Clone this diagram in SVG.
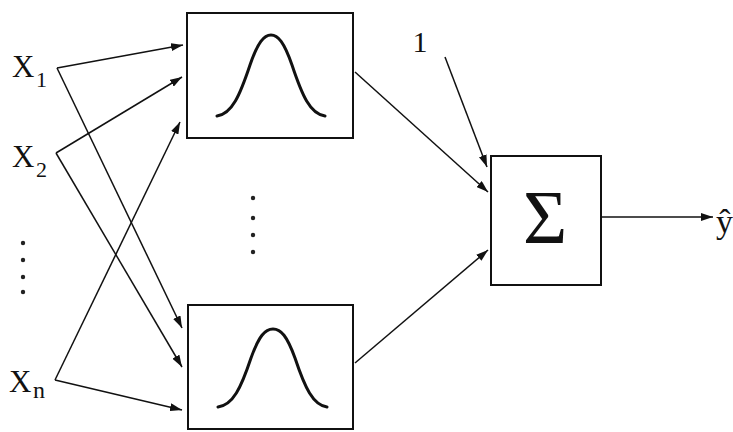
<svg xmlns="http://www.w3.org/2000/svg" width="733" height="432" viewBox="0 0 733 432">
<style>
.lbl{font-family:"Liberation Serif","DejaVu Serif",serif;fill:#111}
.box{fill:none;stroke:#111;stroke-width:2}
.curve{fill:none;stroke:#111;stroke-width:3;stroke-linecap:round}
.con{stroke:#111;stroke-width:1.5;fill:none}
.dot{fill:#222}
</style>
<defs>
<marker id="ah" viewBox="0 0 12 8" refX="12" refY="4" markerWidth="12" markerHeight="8" markerUnits="userSpaceOnUse" orient="auto">
<path d="M0,0 L12,4 L0,8 z" fill="#111"/>
</marker>
</defs>
<rect width="733" height="432" fill="#ffffff"/>

<g id="x1"><text class="lbl" x="12" y="77" font-size="31">X<tspan x="36" y="87" font-size="22">1</tspan></text></g>
<g id="x2"><text class="lbl" x="12" y="167" font-size="31">X<tspan x="36" y="177" font-size="22">2</tspan></text></g>
<g id="xn"><text class="lbl" x="9" y="392" font-size="31">X<tspan x="33" y="398" font-size="24">n</tspan></text></g>
<g id="dots-left">
<circle class="dot" cx="23" cy="243" r="2.2"/>
<circle class="dot" cx="23" cy="260" r="2.2"/>
<circle class="dot" cx="23" cy="277" r="2.2"/>
<circle class="dot" cx="23" cy="292" r="2.2"/>
</g>

<g id="rbf1">
<rect class="box" x="187" y="13" width="166" height="125"/>
<path class="curve" d="M217,116 C232,114 240,95 250,65 C258,42 264,35 271,35 C278,35 284,42 292,65 C302,95 310,114 325,116"/>
</g>
<g id="dots-mid">
<circle class="dot" cx="253" cy="198" r="2.2"/>
<circle class="dot" cx="253" cy="218" r="2.2"/>
<circle class="dot" cx="253" cy="235" r="2.2"/>
<circle class="dot" cx="253" cy="252" r="2.2"/>
</g>
<g id="rbfn">
<rect class="box" x="188" y="305" width="165" height="124"/>
<path class="curve" d="M218,407 C233,405 241,388 251,358 C259,336 265,329 273,329 C281,329 287,336 295,358 C305,388 313,405 327,407"/>
</g>
<g id="sum">
<rect class="box" x="491" y="156" width="110" height="129"/>
<text class="lbl" x="545" y="243" font-size="76" text-anchor="middle">Σ</text>
</g>
<g id="bias"><text class="lbl" x="420" y="52" font-size="30" text-anchor="middle">1</text></g>
<g id="out"><text class="lbl" x="716" y="233" font-size="34">ŷ</text></g>

<g id="connectors">
<line class="con" x1="57" y1="68" x2="183" y2="45" marker-end="url(#ah)"/>
<line class="con" x1="57" y1="68" x2="182" y2="328" marker-end="url(#ah)"/>
<line class="con" x1="56" y1="153" x2="182" y2="77" marker-end="url(#ah)"/>
<line class="con" x1="56" y1="153" x2="182" y2="367" marker-end="url(#ah)"/>
<line class="con" x1="55" y1="380" x2="180" y2="122" marker-end="url(#ah)"/>
<line class="con" x1="55" y1="380" x2="182" y2="410" marker-end="url(#ah)"/>
<line class="con" x1="355" y1="72" x2="488" y2="192" marker-end="url(#ah)"/>
<line class="con" x1="355" y1="363" x2="488" y2="250" marker-end="url(#ah)"/>
<line class="con" x1="445" y1="57" x2="487" y2="167" marker-end="url(#ah)"/>
<line class="con" x1="601" y1="217" x2="713" y2="217" marker-end="url(#ah)"/>
</g>
</svg>
